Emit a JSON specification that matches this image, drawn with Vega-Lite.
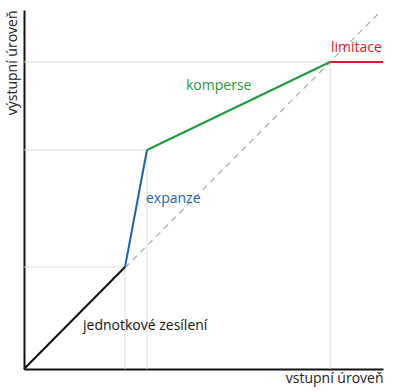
{
  "$schema": "https://vega.github.io/schema/vega-lite/v6.json",
  "width": 359,
  "height": 359,
  "autosize": {"type": "none"},
  "padding": {"left": 24, "top": 10, "right": 12, "bottom": 22},
  "background": "white",
  "datasets": {
    "grid": [
      {"x": 0, "y": 102, "x2": 101, "y2": 102},
      {"x": 0, "y": 219, "x2": 123, "y2": 219},
      {"x": 0, "y": 307, "x2": 306, "y2": 307},
      {"x": 101, "y": 0, "x2": 101, "y2": 102},
      {"x": 123, "y": 0, "x2": 123, "y2": 219},
      {"x": 306, "y": 0, "x2": 306, "y2": 307}
    ],
    "diag": [
      {"x": 0, "y": 0, "x2": 356, "y2": 357}
    ],
    "curve": [
      {"seg": "jednotkové zesílení", "x": 0, "y": 0, "x2": 101, "y2": 102},
      {"seg": "expanze", "x": 101, "y": 102, "x2": 123, "y2": 219},
      {"seg": "komperse", "x": 123, "y": 219, "x2": 306, "y2": 307},
      {"seg": "limitace", "x": 306, "y": 307, "x2": 359, "y2": 307}
    ],
    "labels": [
      {"seg": "komperse", "x": 162, "y": 279},
      {"seg": "limitace", "x": 307, "y": 317},
      {"seg": "expanze", "x": 122, "y": 166},
      {"seg": "jednotkové zesílení", "x": 59, "y": 39}
    ]
  },
  "layer": [
    {
      "data": {"name": "grid"},
      "mark": {"type": "rule", "color": "#dcdcdc", "strokeWidth": 1},
      "encoding": {
        "x": {"field": "x", "type": "quantitative", "title": "vstupní úroveň", "scale": {"domain": [0, 359], "nice": false, "zero": false}},
        "y": {"field": "y", "type": "quantitative", "title": "výstupní úroveň", "scale": {"domain": [0, 359], "nice": false, "zero": false}},
        "x2": {"field": "x2"},
        "y2": {"field": "y2"}
      }
    },
    {
      "data": {"name": "diag"},
      "mark": {"type": "rule", "color": "#a8a8a8", "strokeWidth": 1.2, "strokeDash": [6, 5]},
      "encoding": {
        "x": {"field": "x", "type": "quantitative", "title": "vstupní úroveň"},
        "y": {"field": "y", "type": "quantitative", "title": "výstupní úroveň"},
        "x2": {"field": "x2"},
        "y2": {"field": "y2"}
      }
    },
    {
      "data": {"name": "curve"},
      "mark": {"type": "rule", "strokeWidth": 2},
      "encoding": {
        "x": {"field": "x", "type": "quantitative", "title": "vstupní úroveň"},
        "y": {"field": "y", "type": "quantitative", "title": "výstupní úroveň"},
        "x2": {"field": "x2"},
        "y2": {"field": "y2"},
        "color": {"field": "seg", "type": "nominal", "legend": null,
          "scale": {"domain": ["jednotkové zesílení", "expanze", "komperse", "limitace"], "range": ["#111111", "#1c64ae", "#1c9a3c", "#e2182e"]}}
      }
    },
    {
      "data": {"name": "labels"},
      "mark": {"type": "text", "align": "left", "baseline": "alphabetic", "font": "Open Sans", "fontSize": 14},
      "encoding": {
        "x": {"field": "x", "type": "quantitative", "title": "vstupní úroveň"},
        "y": {"field": "y", "type": "quantitative", "title": "výstupní úroveň"},
        "text": {"field": "seg"},
        "color": {"field": "seg", "type": "nominal", "legend": null}
      }
    }
  ],
  "config": {
    "view": {"stroke": null},
    "axis": {
      "domainColor": "#111111",
      "domainWidth": 2,
      "ticks": false,
      "labels": false,
      "grid": false,
      "titleFont": "Open Sans",
      "titleFontSize": 14,
      "titleFontWeight": "normal",
      "titleColor": "#222222"
    },
    "axisX": {"titleAnchor": "end", "titlePadding": 2},
    "axisY": {"titleAnchor": "end", "titlePadding": 5}
  }
}
